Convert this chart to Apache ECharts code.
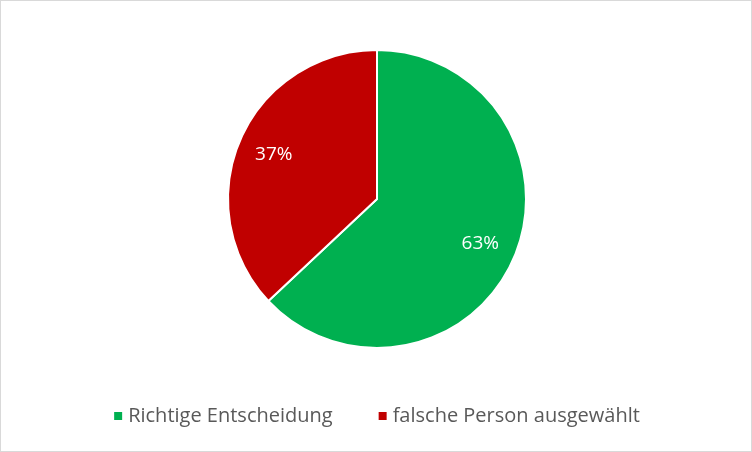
<!DOCTYPE html>
<html><head><meta charset="utf-8">
<script src="https://cdn.jsdelivr.net/npm/echarts@6/dist/echarts.min.js"></script>
<style>html,body{margin:0;padding:0;background:#fff}#c{width:750px;height:450px;border:1px solid #d9d9d9}</style>
</head><body><div id="c"></div>
<script>
const categories = ['Richtige Entscheidung', 'falsche Person ausgewählt'];
const values = [63, 37];
const colors = ['#00B050', '#C00000'];
const data = categories.map((n, i) => ({ name: n, value: values[i], itemStyle: { color: colors[i] } }));
const chart = echarts.init(document.getElementById('c'));
chart.setOption({
  animation: false,
  legend: {
    bottom: 20, left: 'center', itemWidth: 10, itemHeight: 10, itemGap: 44, icon: 'rect',
    textStyle: { fontSize: 20, color: '#595959', fontFamily: 'Open Sans' },
    data: categories
  },
  series: [
    { type: 'pie', center: [376, 198], radius: [0, 149], startAngle: 90, clockwise: true,
      label: { show: false }, labelLine: { show: false },
      itemStyle: { borderColor: '#fff', borderWidth: 2 }, data: data },
    { type: 'pie', center: [376, 198], radius: [70, 149], startAngle: 90, clockwise: true, silent: true,
      legendHoverLink: false,
      label: { show: true, position: 'inside', formatter: '{c}%', color: '#fff', fontSize: 19, fontFamily: 'Open Sans' },
      itemStyle: { color: 'transparent' },
      data: categories.map((n, i) => ({ name: n + ' ', value: values[i] })) }
  ]
});
</script></body></html>
